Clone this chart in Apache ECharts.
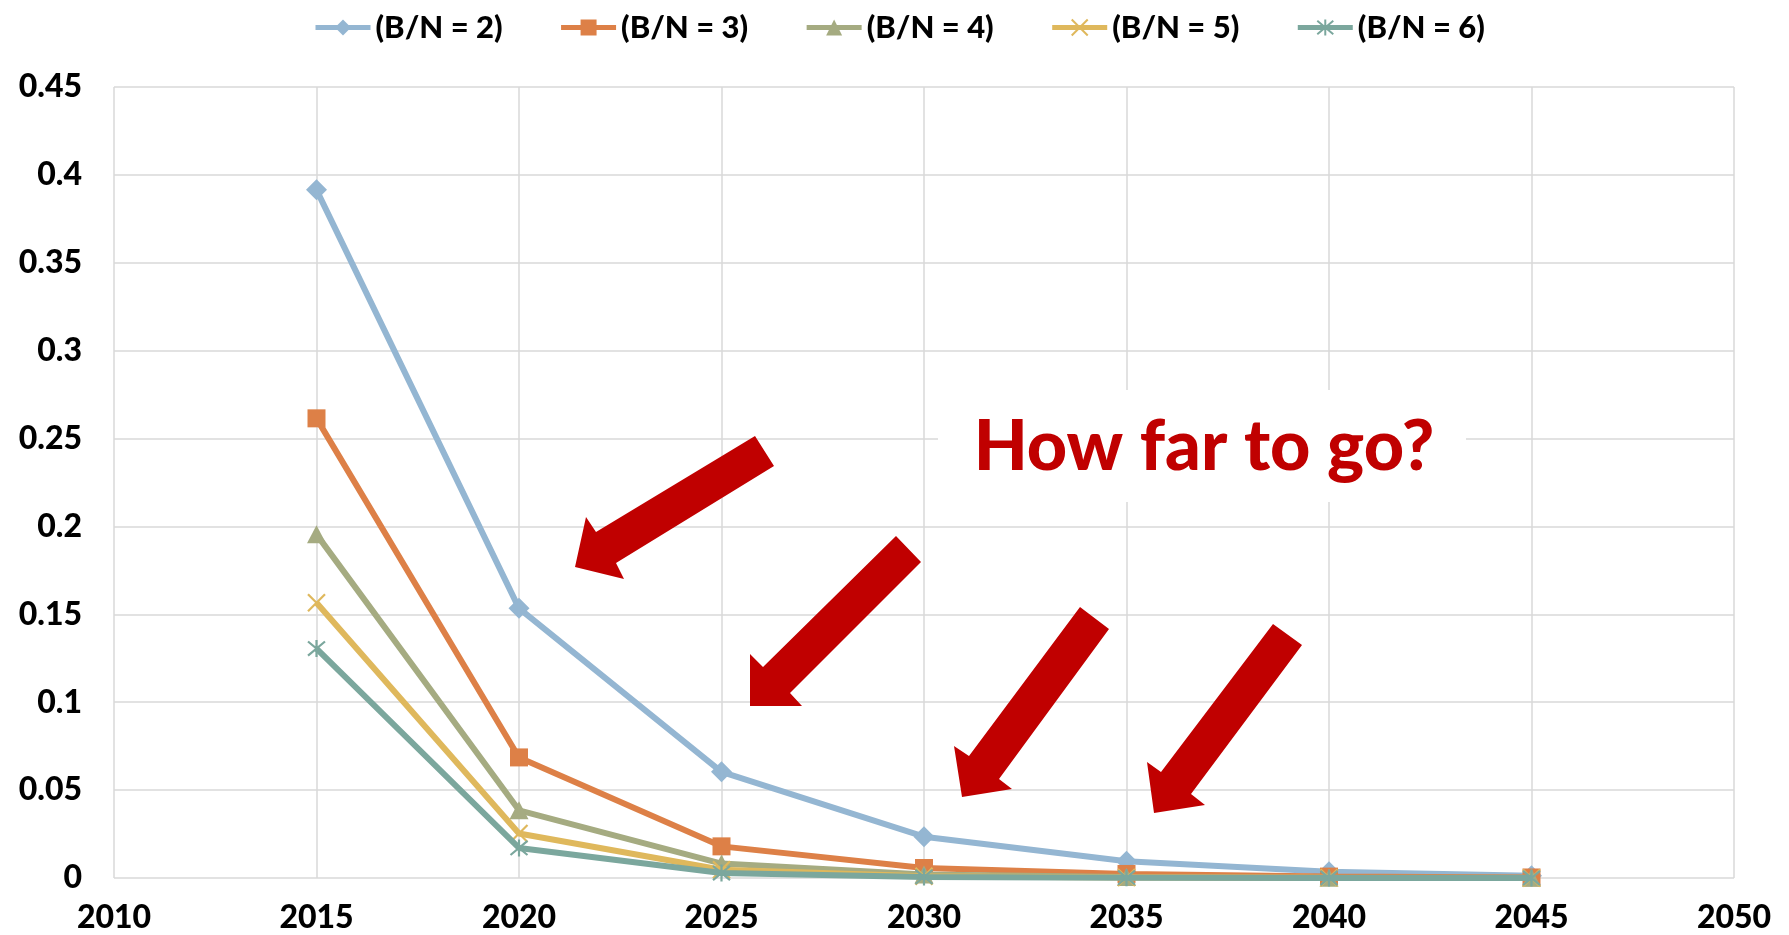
<!DOCTYPE html>
<html>
<head>
<meta charset="utf-8">
<title>B/N projections</title>
<script src="https://cdn.jsdelivr.net/npm/echarts@6/dist/echarts.min.js"></script>
<style>
  html, body { margin: 0; padding: 0; background: #fff; }
  #chart { width: 1789px; height: 935px; }
</style>
</head>
<body>
<div id="chart"></div>
<script>
// Years on the x axis
const years = [2015, 2020, 2025, 2030, 2035, 2040, 2045];

// Series names
const seriesNames = ['(B/N = 2)', '(B/N = 3)', '(B/N = 4)', '(B/N = 5)', '(B/N = 6)'];

// Values per series
const bn2 = [0.3915, 0.1534, 0.0604, 0.0235, 0.0095, 0.0036, 0.0013];
const bn3 = [0.2615, 0.0686, 0.0180, 0.0057, 0.0023, 0.0008, 0.0003];
const bn4 = [0.1955, 0.0385, 0.0082, 0.0020, 0.0006, 0.0002, 0.0001];
const bn5 = [0.1566, 0.0253, 0.0047, 0.0010, 0.0003, 0.0001, 0.0000];
const bn6 = [0.1305, 0.0171, 0.0028, 0.0006, 0.0002, 0.0000, 0.0000];

// Axis ranges
const xMin = 2010, xMax = 2050, xStep = 5;
const yMin = 0, yMax = 0.45, yStep = 0.05;

const calloutText = 'How far to go?';

const colors = ['#94B6D2', '#DD8047', '#A5AB81', '#DFB85C', '#7BA79D'];
const FONT = 'Lato, "Open Sans", "DejaVu Sans", sans-serif';
const HEAVY = 900;

const chart = echarts.init(document.getElementById('chart'), null, { renderer: 'canvas' });

function pairs(vals) {
  return years.map((y, i) => [y, vals[i]]);
}

const markerDefs = [
  { symbol: 'diamond', size: [21, 21], stroke: 0 },
  { symbol: 'rect', size: 18, stroke: 0 },
  { symbol: 'triangle', size: [19, 18], stroke: 0 },
  { symbol: 'path://M0,0L10,10M10,0L0,10', size: 17, stroke: 2.2 },
  { symbol: 'path://M0,0L10,10M10,0L0,10M5,-1L5,11', size: 17, stroke: 2.2 }
];

const allValues = [bn2, bn3, bn4, bn5, bn6];

const series = allValues.map((vals, i) => ({
  name: seriesNames[i],
  type: 'line',
  data: pairs(vals),
  symbol: markerDefs[i].symbol,
  symbolSize: markerDefs[i].size,
  showSymbol: true,
  showAllSymbol: true,
  lineStyle: { color: colors[i], width: 6 },
  itemStyle: {
    color: colors[i],
    borderColor: colors[i],
    borderWidth: markerDefs[i].stroke
  },
  emphasis: { disabled: true },
  z: 2 + i
}));

// Red block arrows pointing down-left toward the tail of the curves
const arrowShapes = [
  [[755, 436], [774, 466], [616, 563], [624, 579], [575, 567], [586, 517], [596, 532]],
  [[896, 536], [921, 562], [790, 693], [802, 706], [750, 706], [750, 654], [763, 667]],
  [[1080, 607], [1109, 629], [999, 779], [1012, 789], [962, 797], [954, 746], [969, 756]],
  [[1273, 624], [1302, 645], [1191, 794], [1205, 805], [1154, 813], [1147, 762], [1161, 772]]
];

const graphics = [
  {
    type: 'rect',
    shape: { x: 938, y: 390, width: 528, height: 112 },
    style: { fill: '#ffffff' },
    z: 100
  },
  {
    type: 'text',
    x: 1204,
    y: 447,
    style: {
      text: calloutText,
      fill: '#C00000',
      fontFamily: FONT,
      fontWeight: HEAVY,
      fontSize: 70,
      align: 'center',
      verticalAlign: 'middle'
    },
    z: 101
  }
].concat(arrowShapes.map(pts => ({
  type: 'polygon',
  shape: { points: pts },
  style: { fill: '#C00000' },
  z: 100
})));

chart.setOption({
  animation: false,
  backgroundColor: '#ffffff',
  textStyle: { fontFamily: FONT },
  legend: {
    data: seriesNames,
    top: 7,
    left: 308,
    itemWidth: 55,
    itemHeight: 20,
    itemGap: 56,
    lineStyle: { width: 5 },
    textStyle: {
      fontFamily: FONT,
      fontWeight: HEAVY,
      fontSize: 31,
      color: '#000'
    }
  },
  grid: { left: 114, right: 55, top: 87, bottom: 57, containLabel: false },
  xAxis: {
    type: 'value',
    min: xMin,
    max: xMax,
    interval: xStep,
    axisLine: { show: false },
    axisTick: { show: false },
    splitLine: { show: true, lineStyle: { color: '#D9D9D9', width: 1.5 } },
    axisLabel: {
      margin: 24,
      fontFamily: FONT,
      fontWeight: HEAVY,
      fontSize: 32,
      color: '#000',
      formatter: v => String(v)
    }
  },
  yAxis: {
    type: 'value',
    min: yMin,
    max: yMax,
    interval: yStep,
    axisLine: { show: false },
    axisTick: { show: false },
    splitLine: { show: true, lineStyle: { color: '#D9D9D9', width: 1.5 } },
    axisLabel: {
      margin: 32,
      fontFamily: FONT,
      fontWeight: HEAVY,
      fontSize: 32,
      color: '#000'
    }
  },
  series: series,
  graphic: graphics
});
</script>
</body>
</html>
